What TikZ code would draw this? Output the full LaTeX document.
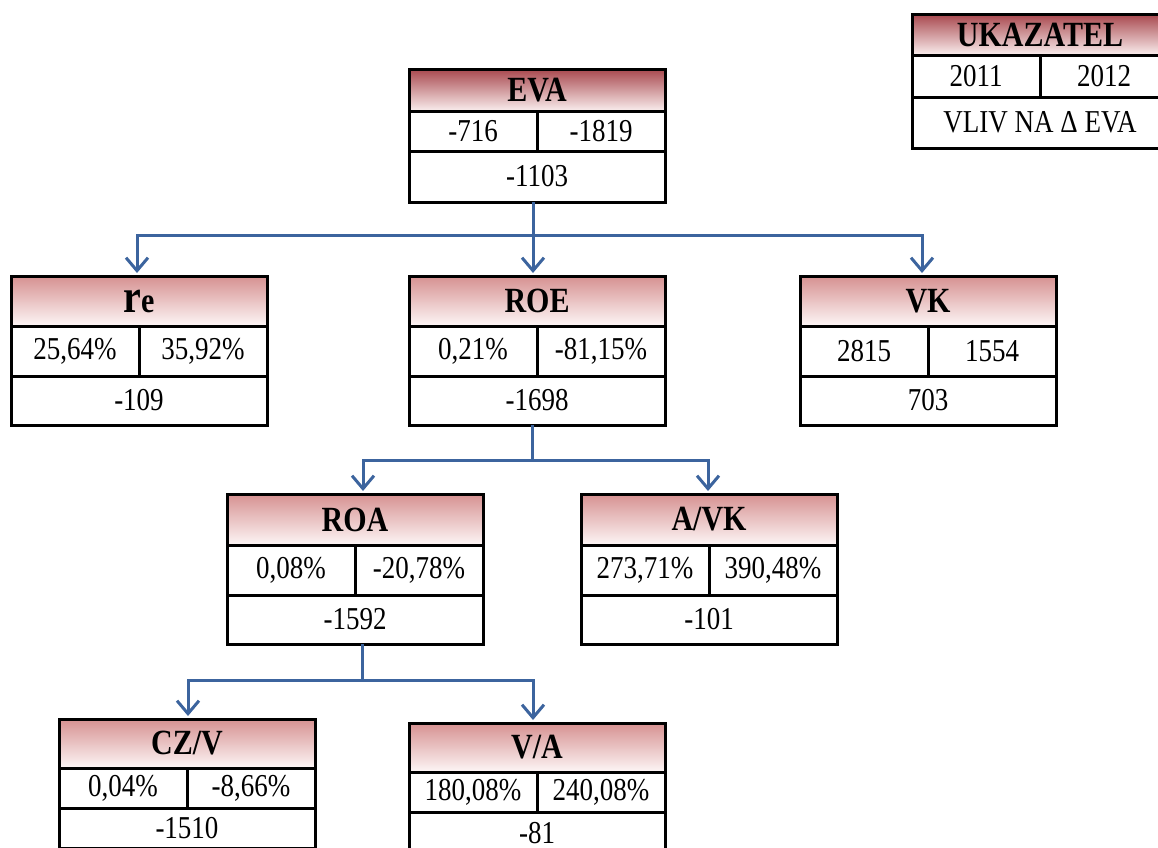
\documentclass[tikz,border=0pt]{standalone}
\usepackage{fontspec}
\setmainfont{Liberation Serif}
\usepackage{graphicx}
\usetikzlibrary{arrows.meta}
\definecolor{arrowblue}{RGB}{60,100,158}
\definecolor{hdrdarktop}{RGB}{168,72,78}
\definecolor{hdrdarkbot}{RGB}{250,238,238}
\definecolor{hdrtop}{RGB}{214,145,145}
\definecolor{hdrbot}{RGB}{253,246,246}
\tikzset{
  cell/.style={draw=black, line width=3pt, fill=white, outer sep=0pt, inner sep=0pt,
    font=\fontsize{27}{30}\selectfont, anchor=north west},
  hdrlight/.style={cell, top color=hdrtop, bottom color=hdrbot, font=\fontsize{30}{32}\selectfont\bfseries},
  hdrdark/.style={cell, top color=hdrdarktop, bottom color=hdrdarkbot, font=\fontsize{30}{32}\selectfont\bfseries},
  arr/.style={draw=arrowblue, line width=3pt, line join=miter,
    -{Straight Barb[length=13pt,width=22pt,line width=3pt]}, shorten >=3pt},
}
\newcommand{\T}[1]{\scalebox{1}[1.18]{#1}}
\def\hdrkind{hdrlight}
% name, (x,y), h1, h2, h3, title, v1, v2, v3
\newcommand{\kbox}[9]{%
  \node[\hdrkind, minimum width=256pt, minimum height=#3pt] (#1-h) at (#2) {\T{#6}};
  \node[cell, minimum width=128pt, minimum height=#4pt] (#1-a) at (#1-h.south west) {\T{#7}};
  \node[cell, minimum width=128pt, minimum height=#4pt] (#1-b) at (#1-a.north east) {\T{#8}};
  \node[cell, minimum width=256pt, minimum height=#5pt] (#1-c) at (#1-a.south west) {\T{#9}};
}
\begin{document}
\begin{tikzpicture}[x=1pt,y=-1pt]
\useasboundingbox (0,0) rectangle (1158,847);
\def\hdrkind{hdrdark}
\kbox{leg}{912,14}{41}{42}{51}{UKAZATEL}{2011}{2012}{VLIV NA Δ EVA}
\kbox{eva}{409,69}{42}{40}{51}{EVA}{-716}{-1819}{-1103}
\def\hdrkind{hdrlight}
\kbox{re}{11,276}{50}{50}{49}{{\fontsize{40}{42}\selectfont r}e}{25,64\%}{35,92\%}{-109}
\kbox{roe}{409,276}{50}{50}{49}{ROE}{0,21\%}{-81,15\%}{-1698}
\kbox{vk}{800,276}{50}{50}{49}{VK}{2815}{1554}{703}
\kbox{roa}{227,494}{51}{50}{49}{ROA}{0,08\%}{-20,78\%}{-1592}
\kbox{avk}{581,494}{51}{50}{49}{A/VK}{273,71\%}{390,48\%}{-101}
\kbox{czv}{59,719}{49}{40}{40}{CZ/V}{0,04\%}{-8,66\%}{-1510}
\kbox{va}{409,723}{49}{40}{42}{V/A}{180,08\%}{240,08\%}{-81}
% connectors
\coordinate (j1) at (533,235);
\coordinate (j2) at (532,460);
\coordinate (j3) at (362,680);
\draw[arr] (j1 |- eva-c.south) -- (j1) -| ([xshift=-2pt]re-h.north);
\draw[arr] (j1 |- eva-c.south) -- (j1 |- roe-h.north);
\draw[arr] (j1 |- eva-c.south) -- (j1) -| ([xshift=-6pt]vk-h.north);
\draw[arr] (j2 |- roe-c.south) -- (j2) -| ([xshift=8pt]roa-h.north);
\draw[arr] (j2 |- roe-c.south) -- (j2) -| ([xshift=-1pt]avk-h.north);
\draw[arr] (j3 |- roa-c.south) -- (j3) -| ([xshift=1pt]czv-h.north);
\draw[arr] (j3 |- roa-c.south) -- (j3) -| ([xshift=-4pt]va-h.north);
\end{tikzpicture}
\end{document}
